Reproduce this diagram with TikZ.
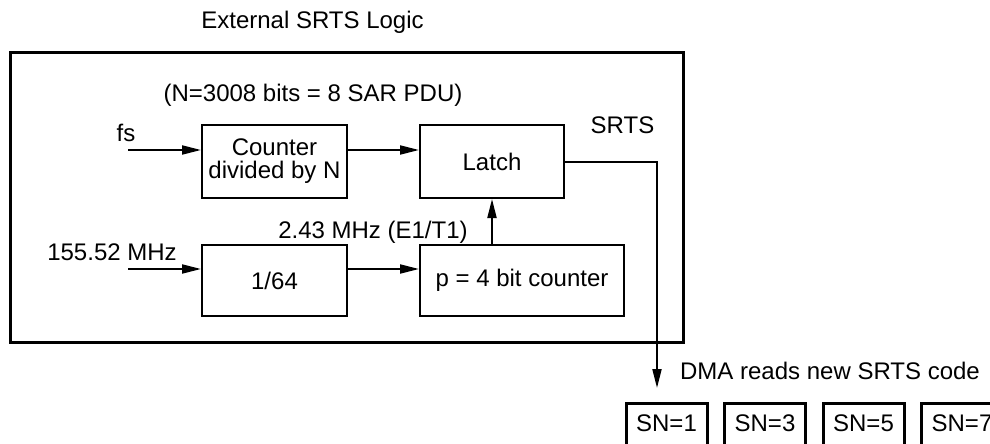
\documentclass[tikz,border=0pt]{standalone}
\usepackage{fontspec}
\setmainfont{Liberation Sans}
\usetikzlibrary{arrows.meta,positioning}

\begin{document}
\begin{tikzpicture}[
  x=0.5pt, y=-0.5pt,
  font=\fontsize{12}{11.5}\selectfont,
  >={Triangle[length=9.5pt,width=4.5pt]},
  node distance=35.5pt,
  block/.style={draw, line width=1pt, align=center, inner sep=0pt, minimum height=36.5pt, minimum width=72.5pt},
  snbox/.style={draw, line width=1.5pt, anchor=north, inner xsep=0pt, inner ysep=3pt, minimum width=40.5pt, text height=11pt, text depth=20pt},
  arrow/.style={->, line width=1pt}
]
\useasboundingbox (0,0) rectangle (990,444);
\clip (0,0) rectangle (990,444);

% Frame
\node (title) at (312.5,22) {External SRTS Logic};
\draw[line width=1.5pt] (10,53) rectangle (683,342);
\node (param) at (313,95) {(N=3008 bits = 8 SAR PDU)};

% Upper row
\node[block] (counter) at (274.5,161.5) {Counter\\divided by N};
\node[block, minimum width=72pt, right=of counter] (latch) {Latch};
\node (fs) at (126,133) {fs};
\coordinate (fsin) at (128,150);
\node (srts) at (622.5,125) {SRTS};

\draw[arrow] (fsin) -- (fsin -| counter.west);
\draw[arrow] ([yshift=5.75pt]counter.east) -- ([yshift=5.75pt]latch.west);

% Lower row
\node[block, minimum height=35.5pt] (div64) at (274.5,280.5) {1/64};
\node[block, minimum height=35.5pt, minimum width=102pt, right=of div64] (pcount) {p = 4 bit counter};
\node (mhz) at (112,252) {155.52 MHz};
\coordinate (mhzin) at (128,269);
\node (clk) at (373,232) {2.43 MHz (E1/T1)};

\draw[arrow] (mhzin) -- (mhzin -| div64.west);
\draw[arrow] ([yshift=5.75pt]div64.east) -- ([yshift=5.75pt]pcount.west);
\draw[arrow] (pcount.north -| latch.south) -- (latch.south);

% Output to DMA
\coordinate (dmaend) at (657,388);
\draw[arrow] (latch.east) -| (dmaend);
\node (dma) at (830,371) {DMA reads new SRTS code};

\node[snbox] (sn1) at (666.5,402) {SN=1};
\node[snbox, right=7.25pt of sn1] (sn3) {SN=3};
\node[snbox, right=7.25pt of sn3] (sn5) {SN=5};
\node[snbox, right=7.25pt of sn5] (sn7) {SN=7};

\end{tikzpicture}
\end{document}
